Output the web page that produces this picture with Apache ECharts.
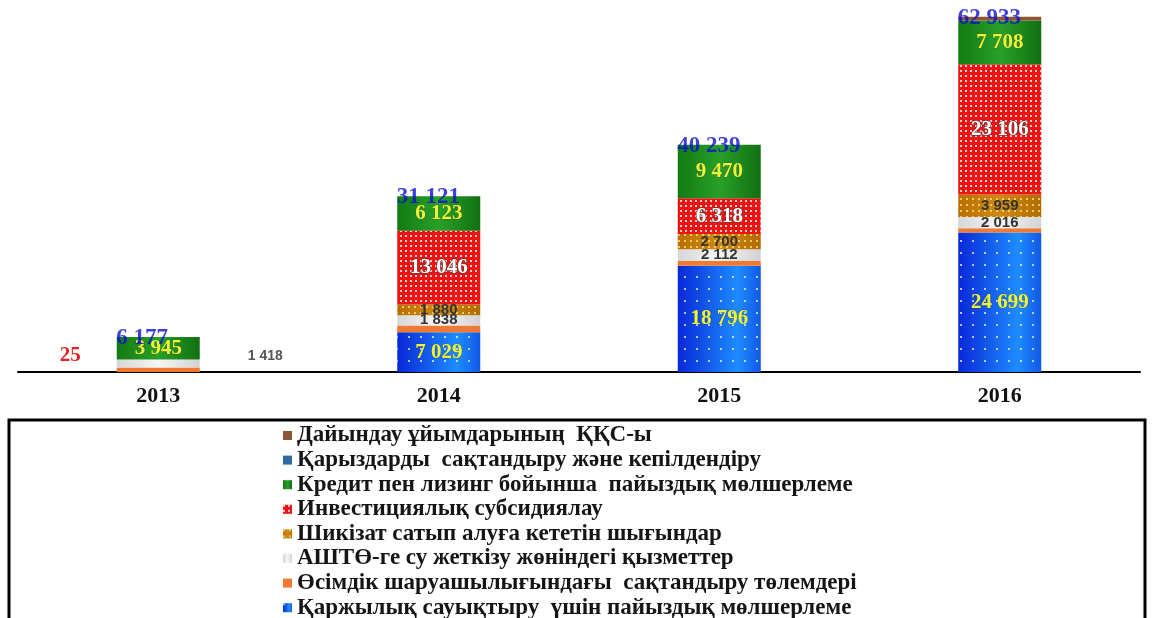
<!DOCTYPE html>
<html>
<head>
<meta charset="utf-8">
<script src="https://cdn.jsdelivr.net/npm/echarts@6/dist/echarts.min.js"></script>
<style>
html, body { margin: 0; padding: 0; background: #fff; }
#chart { width: 1152px; height: 618px; }
</style>
</head>
<body>
<div id="chart"></div>
<script>
// жылдар
var years = ['2013', '2014', '2015', '2016'];
// серия мәндері (төменнен жоғары қарай)
var finRecovery = [0, 7029, 18796, 24699];
var cropInsurance = [789, 1205, 843, 745];
var waterSupply = [1418, 1838, 2112, 2016];
var rawMaterial = [0, 1880, 2700, 3959];
var investSubsidy = [25, 13046, 6318, 23106];
var creditLeasing = [3945, 6123, 9470, 7708];
var loanInsurance = [0, 0, 0, 0];
var procurementVat = [0, 0, 0, 700];
var totals = [6177, 31121, 40239, 62933];

var names = [
  'Қаржылық сауықтыру  үшін пайыздық мөлшерлеме',
  'Өсімдік шаруашылығындағы  сақтандыру төлемдері',
  'АШТӨ-ге су жеткізу жөніндегі қызметтер',
  'Шикізат сатып алуға кететін шығындар',
  'Инвестициялық субсидиялау',
  'Кредит пен лизинг бойынша  пайыздық мөлшерлеме',
  'Қарыздарды  сақтандыру және кепілдендіру',
  'Дайындау ұйымдарының  ҚҚС-ы'
];

var SERIF = '"Liberation Serif", "DejaVu Serif", serif';
var SANS = '"Liberation Sans", Arial, sans-serif';

function fmt(v) {
  if (!v) return '';
  return String(v).replace(/\B(?=(\d{3})+(?!\d))/g, ' ');
}

var myChart = echarts.init(document.getElementById('chart'));

function grad(h, stops) {
  return new echarts.graphic.LinearGradient(0, 0, h ? 1 : 0, h ? 0 : 1, stops);
}

var yellowLabel = { show: true, position: 'inside', formatter: function (p) { return fmt(p.value); },
  color: '#eef23a', fontFamily: SERIF, fontWeight: 'bold', fontSize: 21,
  textBorderColor: 'rgba(60,60,0,0.35)', textBorderWidth: 1 };
var grayLabel = { show: true, position: 'inside', formatter: function (p) { return fmt(p.value); },
  color: '#333333', fontFamily: SANS, fontWeight: 'bold', fontSize: 15 };
var whiteLabel = { show: true, position: 'inside', formatter: function (p) { return fmt(p.value); },
  color: '#ffffff', fontFamily: SERIF, fontWeight: 'bold', fontSize: 21,
  textBorderColor: '#6a3a3a', textBorderWidth: 1.5 };

// 2013 жылғы кішкентай сегменттердің жазулары сыртта
var waterData = waterSupply.map(function (v, i) {
  if (i === 0) return { value: v, label: { offset: [107, -7], color: '#555', fontSize: 14 } };
  return v;
});
var investData = investSubsidy.map(function (v, i) {
  if (i === 0) return { value: v, label: { offset: [-88, -4], color: '#e82020', textBorderWidth: 0 } };
  return v;
});

var option = {
  animation: false,
  grid: { left: 18, right: 12, top: 5, bottom: 246, containLabel: false, outerBoundsMode: 'none' },
  xAxis: {
    type: 'category',
    data: years,
    axisLine: { lineStyle: { color: '#000', width: 2 } },
    axisTick: { show: false },
    axisLabel: { color: '#111', fontFamily: SERIF, fontWeight: 'bold', fontSize: 22, margin: 13 }
  },
  yAxis: { type: 'value', min: 0, max: 65000, show: false, splitLine: { show: false } },
  legend: {
    orient: 'vertical',
    left: 283,
    top: 424,
    height: 300,
    padding: 0,
    itemWidth: 9,
    itemHeight: 9,
    itemGap: 1.6,
    icon: 'rect',
    data: names.slice().reverse(),
    textStyle: { color: '#151515', fontFamily: SERIF, fontWeight: 'bold', fontSize: 23, lineHeight: 22 }
  },
  graphic: [{
    type: 'rect',
    shape: { x: 9, y: 420, width: 1136, height: 240 },
    style: { fill: 'none', stroke: '#000', lineWidth: 3 },
    silent: true
  }],
  series: [
    {
      name: names[0], type: 'bar', stack: 'a', barWidth: 83, data: finRecovery,
      itemStyle: {
        color: grad(true, [{ offset: 0, color: '#0828d8' }, { offset: 0.72, color: '#1e8cff' }, { offset: 1, color: '#1258e6' }]),
        decal: { symbol: 'rect', symbolSize: 1, color: 'rgba(255,255,255,0.7)', dashArrayX: [1.5, 10], dashArrayY: [1.5, 10] }
      },
      label: yellowLabel
    },
    {
      name: names[1], type: 'bar', stack: 'a', barWidth: 83, data: cropInsurance,
      itemStyle: { color: '#f07a32' },
      label: { show: false }
    },
    {
      name: names[2], type: 'bar', stack: 'a', barWidth: 83, data: waterData,
      itemStyle: { color: grad(true, [{ offset: 0, color: '#d6d6d6' }, { offset: 0.5, color: '#f6f6f6' }, { offset: 1, color: '#d2d2d2' }]) },
      label: grayLabel
    },
    {
      name: names[3], type: 'bar', stack: 'a', barWidth: 83, data: rawMaterial,
      itemStyle: {
        color: grad(true, [{ offset: 0, color: '#b86e06' }, { offset: 0.5, color: '#d08a10' }, { offset: 1, color: '#b06a04' }]),
        decal: { symbol: 'rect', symbolSize: 1, color: 'rgba(255,230,120,0.75)', dashArrayX: [1.5, 3.5], dashArrayY: [1.5, 3.5] }
      },
      label: grayLabel
    },
    {
      name: names[4], type: 'bar', stack: 'a', barWidth: 83, data: investData,
      itemStyle: {
        color: '#ee1212',
        decal: { symbol: 'rect', symbolSize: 1, color: 'rgba(255,255,255,0.8)', dashArrayX: [1.3, 2.7], dashArrayY: [1.3, 2.7] }
      },
      label: whiteLabel
    },
    {
      name: names[5], type: 'bar', stack: 'a', barWidth: 83, data: creditLeasing,
      itemStyle: { color: grad(true, [{ offset: 0, color: '#137a13' }, { offset: 0.5, color: '#28a028' }, { offset: 1, color: '#127012' }]) },
      label: yellowLabel
    },
    {
      name: names[6], type: 'bar', stack: 'a', barWidth: 83, data: loanInsurance,
      itemStyle: { color: '#2f6aa0' },
      label: { show: false }
    },
    {
      name: names[7], type: 'bar', stack: 'a', barWidth: 83, data: procurementVat,
      itemStyle: { color: '#8e5636' },
      label: { show: false }
    },
    {
      name: 'Барлығы', type: 'scatter', data: totals, symbolSize: 0, z: 10,
      label: {
        show: true, position: 'inside', align: 'left', offset: [-42, 1],
        formatter: function (p) { return fmt(p.value); },
        color: '#0c10d0', fontFamily: SERIF, fontWeight: 'bold', fontSize: 23
      }
    }
  ]
};

myChart.setOption(option);
</script>
</body>
</html>
